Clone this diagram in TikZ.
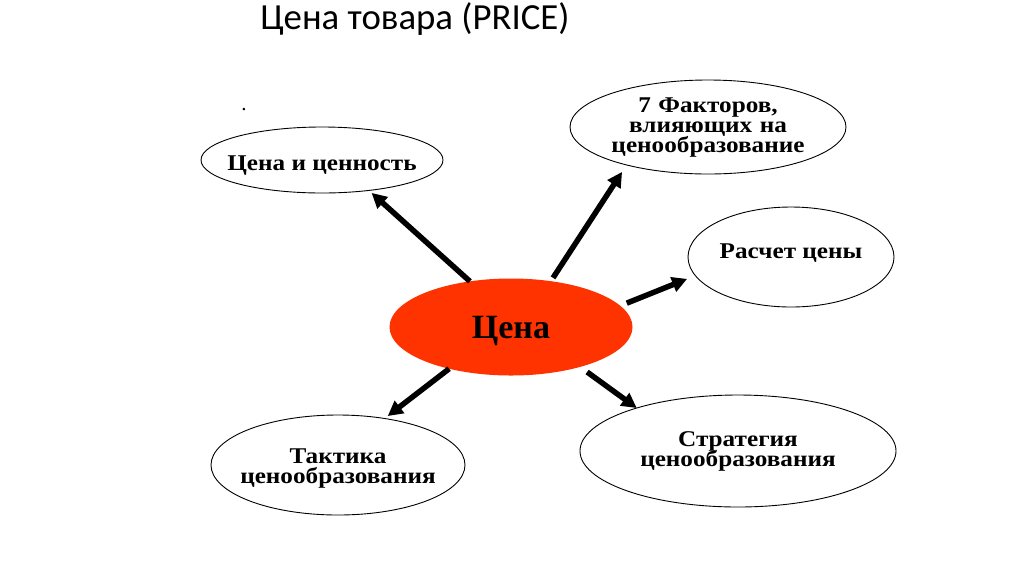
\documentclass[tikz,border=0pt]{standalone}
\usepackage{fontspec}
\setmainfont{Liberation Serif}
\newfontfamily\titlefont{Carlito}
\newfontfamily\lblfont[FakeStretch=1.12]{Liberation Serif}
\newcommand\lblsetup{\lblfont\fontsize{22.5}{20}\selectfont\bfseries\lineskiplimit=-30pt\relax}
\usetikzlibrary{shapes.geometric,arrows.meta}
\definecolor{hot}{RGB}{255,51,0}
\tikzset{
  oval/.style={ellipse, draw=black, line width=0.9pt, fill=white, inner sep=0pt, outer sep=0pt},
  lbl/.style={align=center, anchor=base, font=\lblsetup, inner sep=0pt},
  mlbl/.style={align=center, text width=270pt, anchor=center, font=\lblsetup, inner sep=0pt},
  arr/.style={line width=5.5pt, -{Triangle[length=15pt,width=15pt]}},
}
\begin{document}
\begin{tikzpicture}[x=1pt,y=-1pt]
\path[use as bounding box, fill=white] (0,0) rectangle (1024,574);
\node[font=\titlefont\fontsize{36.8}{40}\selectfont, inner sep=0pt, anchor=base] (title) at (415,29) {Цена товара (PRICE)};
\node[font=\fontsize{21}{21}\selectfont, inner sep=0pt, anchor=base] (dot) at (244,110) {.};
\node[ellipse, fill=hot, inner sep=0pt, outer sep=0pt, minimum width=243pt, minimum height=97pt] (c) at (511,327) {};
\node[inner sep=0pt, anchor=base, font=\fontsize{34}{34}\selectfont\bfseries] (ct) at (511,338) {Цена};
\node[oval, minimum width=242pt, minimum height=66pt] (t1) at (322,160) {};
\node[lbl] at (322,170) {Цена и ценность};
\node[oval, minimum width=276pt, minimum height=94pt] (t2) at (708,127) {};
\node[mlbl] at (708,128) {7 Факторов,\\ влияющих на\\ ценообразование};
\node[oval, minimum width=206pt, minimum height=100pt] (t3) at (791,257) {};
\node[lbl] at (791,258) {Расчет цены};
\node[oval, minimum width=254pt, minimum height=100pt] (t4) at (338,465) {};
\node[mlbl] at (338,469) {Тактика\\ ценообразования};
\node[oval, minimum width=316pt, minimum height=112pt] (t5) at (738,451) {};
\node[mlbl] at (738,451) {Стратегия\\ ценообразования};
\draw[arr, shorten >=3.7pt] (c.132.4) -- (t1.-33.4);
\draw[arr, shorten <=4pt, shorten >=8.3pt] (c.49.6) -- (t2.205);
\draw[arr, shorten <=7pt, shorten >=8.9pt] (c.11.7) -- (t3.191.6);
\draw[arr, shorten >=4pt] (c.214.8) -- (t4.45.5);
\draw[arr, shorten <=8.7pt] (c.-30.9) -- (t5.157.1);
\end{tikzpicture}
\end{document}
